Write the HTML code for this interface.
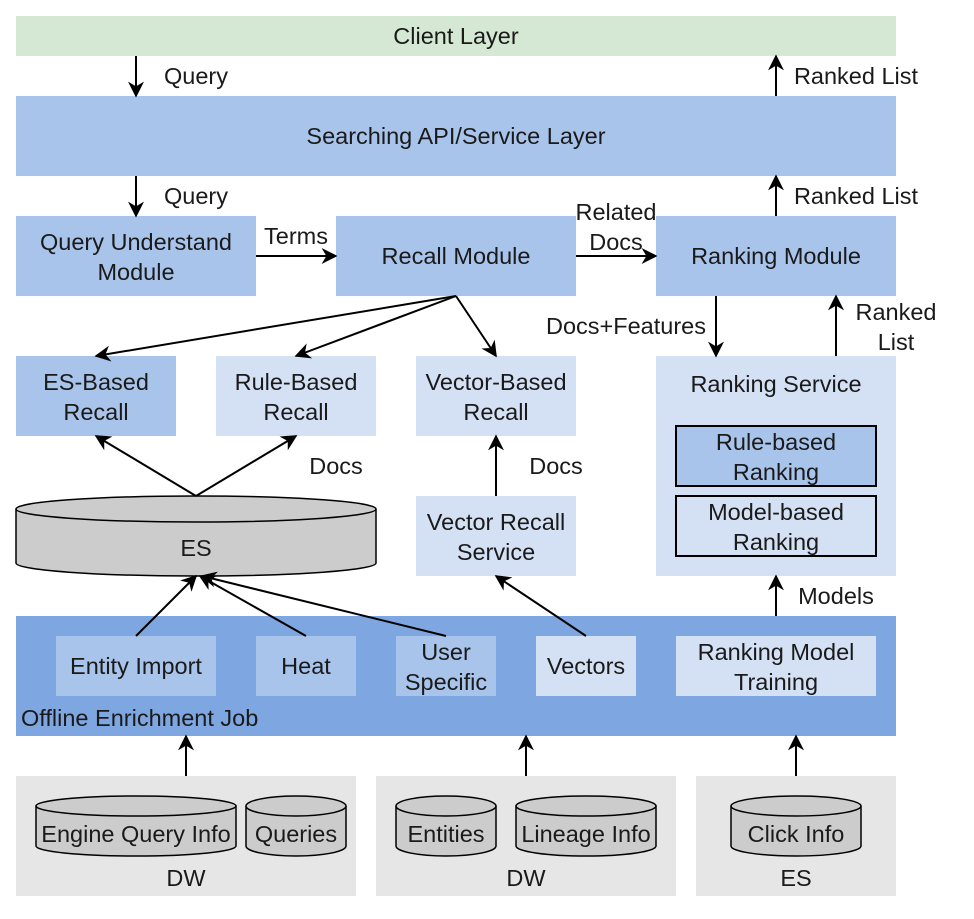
<!DOCTYPE html>
<html><head><meta charset="utf-8"><style>
html,body{margin:0;padding:0;background:#fff;}
svg text{font-family:"Liberation Sans",Arial,sans-serif;font-size:23.5px;fill:#1a1a1a;text-anchor:middle;dominant-baseline:central;}
</style></head><body>
<svg width="974" height="914" viewBox="0 0 974 914" xmlns="http://www.w3.org/2000/svg">
<defs>
<marker id="b" viewBox="0 0 10 10" refX="9" refY="5" markerWidth="16" markerHeight="16" markerUnits="userSpaceOnUse" orient="auto"><path d="M0,0 L10,5 L0,10 L3,5 z" fill="#000"/></marker></defs>
<g stroke="none">
<rect x="16" y="16" width="880" height="40" fill="#d5e8d4"/>
<rect x="16" y="96" width="880" height="80" fill="#a9c4eb"/>
<rect x="16" y="216" width="240" height="80" fill="#a9c4eb"/>
<rect x="336" y="216" width="240" height="80" fill="#a9c4eb"/>
<rect x="656" y="216" width="240" height="80" fill="#a9c4eb"/>
<rect x="16" y="356" width="160" height="80" fill="#a9c4eb"/>
<rect x="216" y="356" width="160" height="80" fill="#d4e1f5"/>
<rect x="416" y="356" width="160" height="80" fill="#d4e1f5"/>
<rect x="656" y="356" width="240" height="220" fill="#d4e1f5"/>
<rect x="416" y="496" width="160" height="80" fill="#d4e1f5"/>
<rect x="16" y="616" width="880" height="120" fill="#7ea6e0"/>
<rect x="56" y="636" width="160" height="60" fill="#a9c4eb"/>
<rect x="256" y="636" width="100" height="60" fill="#a9c4eb"/>
<rect x="396" y="636" width="100" height="60" fill="#a9c4eb"/>
<rect x="536" y="636" width="100" height="60" fill="#d4e1f5"/>
<rect x="676" y="636" width="200" height="60" fill="#d4e1f5"/>
<rect x="16" y="776" width="340" height="120" fill="#e6e6e6"/>
<rect x="376" y="776" width="300" height="120" fill="#e6e6e6"/>
<rect x="696" y="776" width="200" height="120" fill="#e6e6e6"/>
</g>
<rect x="676" y="426" width="200" height="60" fill="#a9c4eb" stroke="#000" stroke-width="2"/>
<rect x="676" y="496" width="200" height="60" fill="#d4e1f5" stroke="#000" stroke-width="2"/>
<g fill="#cccccc" stroke="#000" stroke-width="1.5">
<path d="M16,509 A180,13 0 0 1 376,509 L376,563 A180,13 0 0 1 16,563 Z"/>
<path d="M16,509 A180,13 0 0 0 376,509"/>
<path d="M36,806 A100,10 0 0 1 236,806 L236,846 A100,10 0 0 1 36,846 Z"/><path d="M36,806 A100,10 0 0 0 236,806"/>
<path d="M246,806 A50,10 0 0 1 346,806 L346,846 A50,10 0 0 1 246,846 Z"/><path d="M246,806 A50,10 0 0 0 346,806"/>
<path d="M396,806 A50,10 0 0 1 496,806 L496,846 A50,10 0 0 1 396,846 Z"/><path d="M396,806 A50,10 0 0 0 496,806"/>
<path d="M516,806 A70,10 0 0 1 656,806 L656,846 A70,10 0 0 1 516,846 Z"/><path d="M516,806 A70,10 0 0 0 656,806"/>
<path d="M731,806 A65,10 0 0 1 861,806 L861,846 A65,10 0 0 1 731,846 Z"/><path d="M731,806 A65,10 0 0 0 861,806"/>
</g>
<g stroke="#000" stroke-width="2" fill="none" marker-end="url(#b)">
<line x1="136" y1="56" x2="136" y2="96"/>
<line x1="776" y1="96" x2="776" y2="56"/>
<line x1="136" y1="176" x2="136" y2="216"/>
<line x1="776" y1="216" x2="776" y2="176"/>
<line x1="256" y1="256" x2="336" y2="256"/>
<line x1="576" y1="256" x2="656" y2="256"/>
<line x1="456" y1="296" x2="96" y2="356"/>
<line x1="456" y1="296" x2="296" y2="356"/>
<line x1="456" y1="296" x2="496" y2="356"/>
<line x1="716" y1="296" x2="716" y2="356"/>
<line x1="836" y1="356" x2="836" y2="296"/>
<line x1="196" y1="496" x2="96" y2="436"/>
<line x1="196" y1="496" x2="296" y2="436"/>
<line x1="496" y1="496" x2="496" y2="436"/>
<line x1="136" y1="636" x2="196" y2="576"/>
<line x1="306" y1="636" x2="200" y2="576"/>
<line x1="446" y1="636" x2="202" y2="576"/>
<line x1="586" y1="636" x2="496" y2="576"/>
<line x1="776" y1="616" x2="776" y2="576"/>
<line x1="186" y1="776" x2="186" y2="736"/>
<line x1="526" y1="776" x2="526" y2="736"/>
<line x1="796" y1="776" x2="796" y2="736"/>
</g>
<text x="456" y="36">Client Layer</text>
<text x="196" y="76">Query</text>
<text x="856" y="76">Ranked List</text>
<text x="456" y="136">Searching API/Service Layer</text>
<text x="196" y="196">Query</text>
<text x="856" y="196">Ranked List</text>
<text x="136" y="242">Query Understand</text><text x="136" y="272">Module</text>
<text x="296" y="236">Terms</text>
<text x="456" y="256">Recall Module</text>
<text x="616" y="212">Related</text><text x="616" y="242">Docs</text>
<text x="776" y="256">Ranking Module</text>
<text x="626" y="326">Docs+Features</text>
<text x="896" y="312">Ranked</text><text x="896" y="342">List</text>
<text x="96" y="382">ES-Based</text><text x="96" y="412">Recall</text>
<text x="296" y="382">Rule-Based</text><text x="296" y="412">Recall</text>
<text x="496" y="382">Vector-Based</text><text x="496" y="412">Recall</text>
<text x="776" y="384">Ranking Service</text>
<text x="776" y="442">Rule-based</text><text x="776" y="472">Ranking</text>
<text x="776" y="512">Model-based</text><text x="776" y="542">Ranking</text>
<text x="336" y="466">Docs</text>
<text x="556" y="466">Docs</text>
<text x="196" y="548">ES</text>
<text x="496" y="522">Vector Recall</text><text x="496" y="552">Service</text>
<text x="836" y="596">Models</text>
<text x="136" y="666">Entity Import</text>
<text x="306" y="666">Heat</text>
<text x="446" y="652">User</text><text x="446" y="682">Specific</text>
<text x="586" y="666">Vectors</text>
<text x="776" y="652">Ranking Model</text><text x="776" y="682">Training</text>
<text x="21" y="718" style="text-anchor:start">Offline Enrichment Job</text>
<text x="136" y="834">Engine Query Info</text>
<text x="296" y="834">Queries</text>
<text x="446" y="834">Entities</text>
<text x="586" y="834">Lineage Info</text>
<text x="796" y="834">Click Info</text>
<text x="186" y="878">DW</text>
<text x="526" y="878">DW</text>
<text x="796" y="878">ES</text>
</svg>
</body></html>
